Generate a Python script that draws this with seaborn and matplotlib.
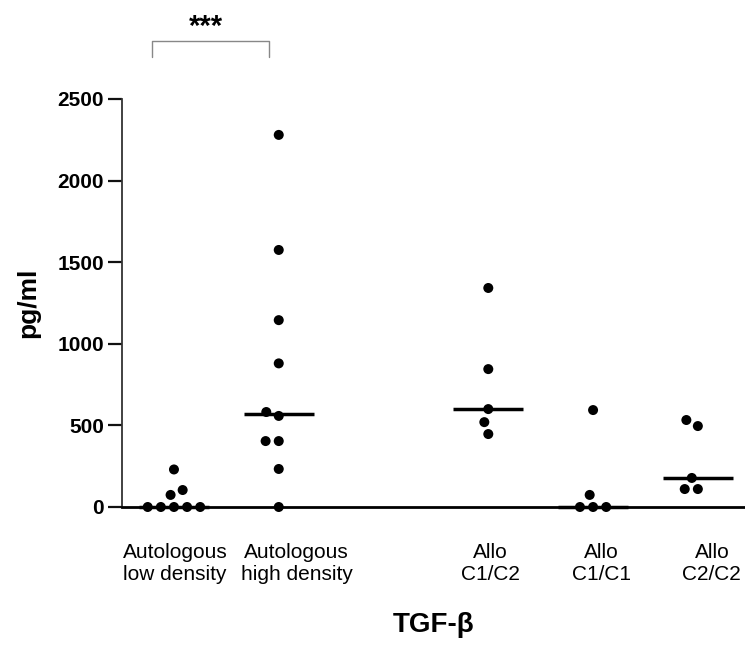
import numpy as np
import pandas as pd
import matplotlib
matplotlib.use("Agg")
import matplotlib.pyplot as plt
import matplotlib.transforms as mtransforms
import seaborn as sns

# ---- data ----
categories = ["Autologous\nlow density", "Autologous\nhigh density", "",
              "Allo\nC1/C2", "Allo\nC1/C1", "Allo\nC2/C2"]
auto_low = [0, 0, 0, 0, 0, 74, 104, 230]
auto_high = [0, 233, 404, 404, 558, 582, 880, 1145, 1575, 2280]
allo_c1c2 = [447, 520, 600, 845, 1342]
allo_c1c1 = [0, 0, 0, 74, 594]
allo_c2c2 = [110, 110, 178, 496, 533]
y_ticks = [0, 500, 1000, 1500, 2000, 2500]

series = {
    categories[0]: auto_low,
    categories[1]: auto_high,
    categories[3]: allo_c1c2,
    categories[4]: allo_c1c1,
    categories[5]: allo_c2c2,
}
rows = [(g, v) for g, vals in series.items() for v in vals]
df = pd.DataFrame(rows, columns=["group", "value"])

sns.set_theme(style="ticks")
plt.rcParams["font.family"] = ["Liberation Sans", "DejaVu Sans"]
plt.rcParams["text.color"] = "black"
plt.rcParams["axes.labelcolor"] = "black"
plt.rcParams["xtick.color"] = "black"
plt.rcParams["ytick.color"] = "black"

fig = plt.figure(figsize=(7.45, 6.66), dpi=100)
ax = fig.add_axes([122 / 745, 159 / 666, 623 / 745, 408 / 666])

sns.swarmplot(data=df, x="group", y="value", order=categories, color="black",
              size=7.2, linewidth=1.8, edgecolor="none", ax=ax, zorder=4)
sns.pointplot(data=df, x="group", y="value", order=categories, estimator="median",
              errorbar=None, color="black", markers="_", linestyles="none",
              markersize=51, markeredgewidth=2.5, ax=ax)
for coll in list(ax.collections):
    offs = coll.get_offsets()
    if len(offs) == 0:
        coll.remove()
    else:
        coll.set_clip_on(False)
for ln in ax.lines:
    ln.set_clip_on(False)

ax.set_xlim(-0.496, 5.45)
ax.set_ylim(0, 2500)
ax.set_yticks(y_ticks)
ax.set_yticklabels([str(t) for t in y_ticks], fontsize=15, fontweight="bold")
ax.set_xticks(range(len(categories)))
ax.set_xticklabels(categories, fontsize=15, linespacing=1.2)
ax.tick_params(axis="x", length=0, pad=26)
ax.tick_params(axis="y", length=10, width=1.6, pad=3, color="#111111")

# small horizontal nudges of the category labels (px), as in the reference
label_shift_px = [1, 18, 0, 2, 8, 14]
for lab, dx in zip(ax.get_xticklabels(), label_shift_px):
    lab.set_transform(lab.get_transform() +
                      mtransforms.ScaledTranslation(dx / 100, 0, fig.dpi_scale_trans))

sns.despine(ax=ax, top=True, right=True)
ax.spines["left"].set_linewidth(1.3)
ax.spines["left"].set_color("#333333")
ax.spines["bottom"].set_linewidth(2.0)
ax.spines["bottom"].set_color("black")
ax.spines["bottom"].set_zorder(3)

ax.set_ylabel("pg/ml", fontsize=19, fontweight="bold", labelpad=12)
ax.set_xlabel("TGF-β", fontsize=20, fontweight="bold", labelpad=20)

# significance bracket
ax.plot([-0.21, -0.21, 0.91, 0.91], [2757, 2855, 2855, 2757], color="#888888",
        lw=1.0, clip_on=False)
ax.text(0.305, 2892, "***", ha="center", va="baseline", fontsize=21,
        fontweight="bold")

fig.savefig("out.png", dpi=100)
